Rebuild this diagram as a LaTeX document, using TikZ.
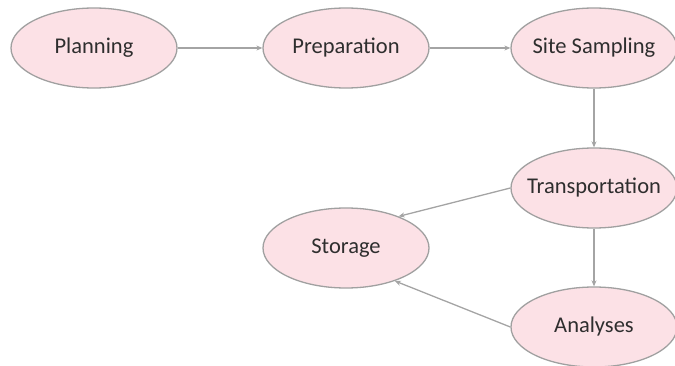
\documentclass[tikz,border=0pt]{standalone}
\usepackage{fontspec}
\setmainfont{Carlito}
\usetikzlibrary{shapes.geometric,arrows.meta}
\definecolor{stagefill}{HTML}{FCE1E6}
\definecolor{stageline}{HTML}{A0A0A0}
\definecolor{stagetext}{HTML}{2E2E2E}
\definecolor{flowline}{HTML}{A4A4A4}
% label of zero width, so that every ellipse keeps the same size
\newcommand\stagelabel[1]{\makebox[0pt]{#1}}
\tikzset{
  stage/.style={ellipse, draw=stageline, line width=1.3pt, fill=stagefill,
    minimum width=166pt, minimum height=80pt, inner sep=0pt,
    text=stagetext, font=\fontsize{22.5}{26}\selectfont},
  flow/.style={draw=flowline, line width=1.3pt,
    -{Stealth[length=6pt,width=5pt]}}
}
\begin{document}
\begin{tikzpicture}[x=1pt,y=-1pt]
  \useasboundingbox (0,0) rectangle (675,366);
  \node[stage] (plan) at (94,48)  {\stagelabel{Planning}};
  \node[stage] (prep) at (346,48) {\stagelabel{Preparation}};
  \node[stage] (site) at (594,48) {\stagelabel{Site Sampling}};
  \node[stage] (trans) at (594,188) {\stagelabel{Transportation}};
  \node[stage] (store) at (346,248) {\stagelabel{Storage}};
  \node[stage] (anal) at (594,327) {\stagelabel{Analyses}};
  \draw[flow] (plan) -- (prep);
  \draw[flow] (prep) -- (site);
  \draw[flow] (site) -- (trans);
  \draw[flow] (trans) -- (anal);
  \draw[flow] (trans.west) -- (store.31);
  \draw[flow] (anal.west) -- (store.-34);
\end{tikzpicture}
\end{document}
